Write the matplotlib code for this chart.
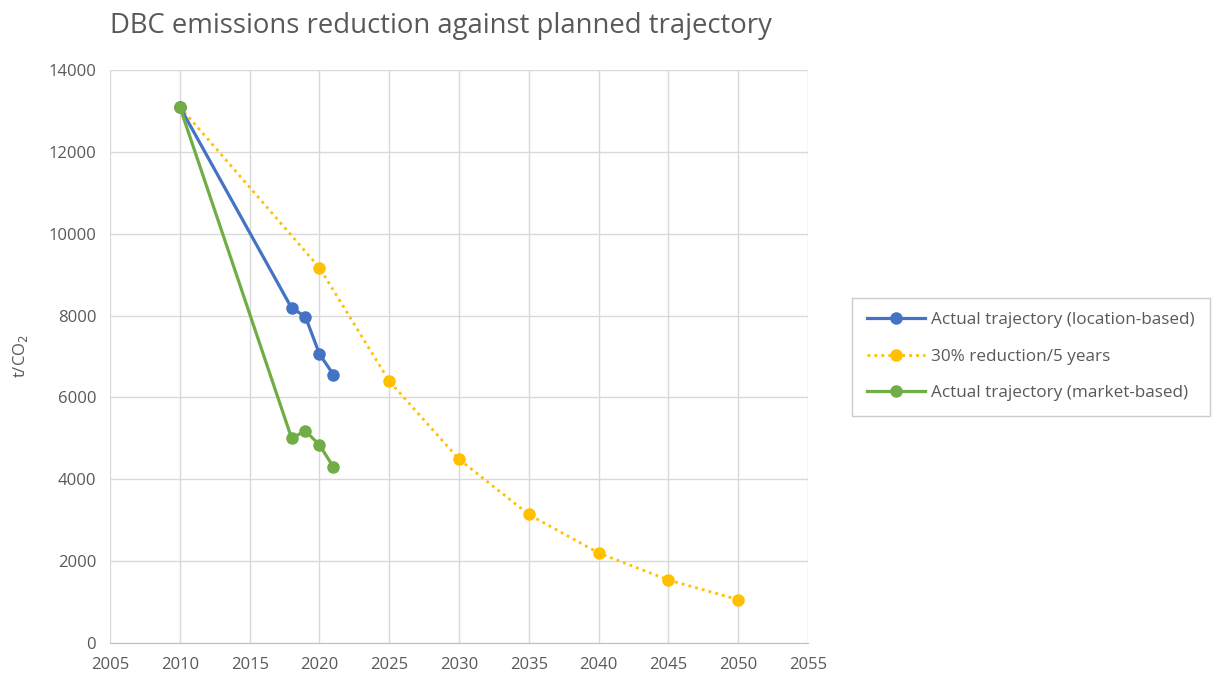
import matplotlib.pyplot as plt

# --- DATA ---
loc_years = [2010, 2018, 2019, 2020, 2021]
loc_values = [13100, 8190, 7970, 7060, 6560]

target_years = [2010, 2020, 2025, 2030, 2035, 2040, 2045, 2050]
target_values = [13100, 9170, 6400, 4490, 3140, 2200, 1540, 1060]

mkt_years = [2010, 2018, 2019, 2020, 2021]
mkt_values = [13100, 5010, 5180, 4840, 4300]

plt.rcParams['font.family'] = ['Open Sans', 'DejaVu Sans']
grey = '#595959'

fig = plt.figure(figsize=(12.16, 6.8), dpi=100)
ax = fig.add_axes([0.0905, 0.0544, 0.574, 0.8426])

ax.plot(loc_years, loc_values, color='#4472c4', lw=2.3, marker='o', ms=8,
        label='Actual trajectory (location-based)', zorder=3)
ax.plot(target_years, target_values, color='#ffc000', lw=2, ls=(0, (1, 1.5)),
        marker='o', ms=8, label='30% reduction/5 years', zorder=2)
ax.plot(mkt_years, mkt_values, color='#70ad47', lw=2.3, marker='o', ms=8,
        label='Actual trajectory (market-based)', zorder=4)

ax.set_xlim(2005, 2055)
ax.set_ylim(0, 14000)
ax.set_xticks(range(2005, 2056, 5))
ax.set_yticks(range(0, 14001, 2000))
ax.grid(True, color='#d9d9d9', lw=1)
ax.set_axisbelow(True)
for s in ['top', 'right', 'left']:
    ax.spines[s].set_visible(False)
ax.spines['bottom'].set_color('#bfbfbf')
ax.tick_params(length=0, labelsize=12, colors=grey, pad=10)

ax.set_ylabel('t/CO$_2$', fontsize=12, color=grey, labelpad=13)
fig.text(0.0905, 0.962, 'DBC emissions reduction against planned trajectory',
         fontsize=19.8, color=grey, va='center')

leg = ax.legend(loc='center left', bbox_to_anchor=(1.063, 0.5), fontsize=12.3,
                frameon=True, fancybox=False, edgecolor='#bfbfbf',
                borderpad=0.85, labelspacing=1.2, handlelength=3.4,
                handletextpad=0.4, borderaxespad=0)
for t in leg.get_texts():
    t.set_color(grey)

fig.savefig('out.png', dpi=100)
